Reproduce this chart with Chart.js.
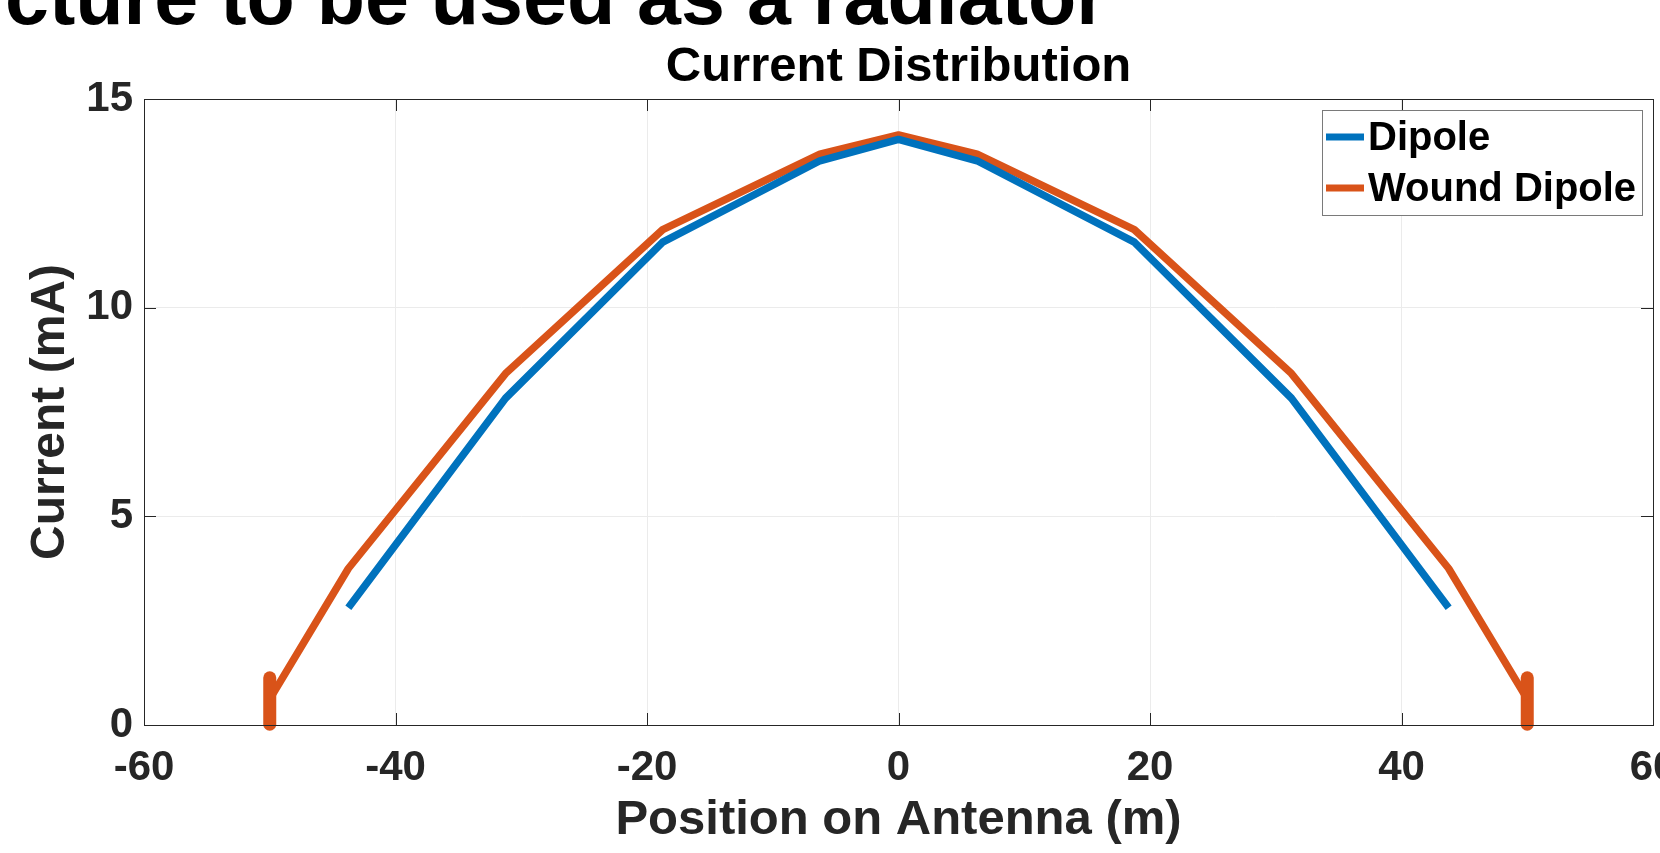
<!DOCTYPE html>
<html>
<head>
<meta charset="utf-8">
<script src="https://cdn.jsdelivr.net/npm/chart.js@4.4.1/dist/chart.umd.min.js"></script>
<style>
  html, body { margin: 0; padding: 0; background: #fff; overflow: hidden; }
  body { width: 1660px; height: 853px; position: relative; }
  #cut { position: absolute; left: 5px; top: -49px; font: bold 79px "Liberation Sans", Arial, sans-serif; color: #000; white-space: nowrap; line-height: 92px; }
  #wrap { position: absolute; left: 0; top: 0; width: 1720px; height: 853px; }
</style>
</head>
<body>
<div id="cut">cture to be used as a radiator</div>
<div id="wrap"><canvas id="c"></canvas></div>
<script>
// posiciones a lo largo de la antena (m)
const dipoleX = [-43.75, -31.25, -18.75, -6.25, 0, 6.25, 18.75, 31.25, 43.75];
const dipoleY = [2.81, 7.83, 11.57, 13.52, 14.03, 13.52, 11.57, 7.83, 2.81];
const woundX = [-50, -43.75, -31.25, -18.75, -6.25, 0, 6.25, 18.75, 31.25, 43.75, 50];
const woundY = [0.62, 3.75, 8.42, 11.87, 13.68, 14.14, 13.68, 11.87, 8.42, 3.75, 0.62];
// los extremos verticales del dipolo enrollado
const endLeftX = [-50, -50];
const endRightX = [50, 50];
const endY = [0.02, 1.13];

const xTicks = [-60, -40, -20, 0, 20, 40, 60];
const yTicks = [0, 5, 10, 15];

const BLUE = '#0072BD';
const ORANGE = '#D95319';
const FONT = '"Liberation Sans", Arial, sans-serif';

const pts = (xs, ys) => xs.map((x, i) => ({ x: x, y: ys[i] }));

// titulo, leyenda, marco y marcas hacia adentro al estilo MATLAB
const matlabDeco = {
    id: 'matlabDeco',
    afterDraw(chart) {
        const { ctx, chartArea: a, scales } = chart;
        ctx.save();
        // marcas
        ctx.strokeStyle = '#262626';
        ctx.lineWidth = 1;
        ctx.beginPath();
        xTicks.forEach(v => {
            const px = Math.round(scales.x.getPixelForValue(v)) + 0.5;
            ctx.moveTo(px, a.bottom); ctx.lineTo(px, a.bottom - 12);
            ctx.moveTo(px, a.top); ctx.lineTo(px, a.top + 12);
        });
        yTicks.forEach(v => {
            const py = Math.round(scales.y.getPixelForValue(v)) + 0.5;
            ctx.moveTo(a.left, py); ctx.lineTo(a.left + 12, py);
            ctx.moveTo(a.right, py); ctx.lineTo(a.right - 12, py);
        });
        ctx.stroke();
        // marco
        ctx.strokeRect(Math.round(a.left) + 0.5, Math.round(a.top) + 0.5, Math.round(a.right - a.left), Math.round(a.bottom - a.top));

        // titulo
        ctx.fillStyle = '#000';
        ctx.font = 'bold 49px ' + FONT;
        ctx.textAlign = 'center';
        ctx.textBaseline = 'alphabetic';
        ctx.fillText('Current Distribution', (a.left + a.right) / 2, 81);

        // leyenda
        const items = chart.data.datasets.filter(d => d.label);
        const lx = 1322, ly = 110, lw = 320, lh = 105;
        ctx.fillStyle = '#fff';
        ctx.fillRect(lx, ly, lw, lh);
        ctx.strokeStyle = '#7a7a7a';
        ctx.strokeRect(lx + 0.5, ly + 0.5, lw, lh);
        ctx.font = 'bold 40px ' + FONT;
        ctx.textAlign = 'left';
        ctx.textBaseline = 'middle';
        items.forEach((d, i) => {
            const y = ly + 27 + i * 51;
            ctx.strokeStyle = d.borderColor;
            ctx.lineWidth = 7;
            ctx.beginPath();
            ctx.moveTo(lx + 4, y); ctx.lineTo(lx + 42, y);
            ctx.stroke();
            ctx.fillStyle = '#000';
            ctx.fillText(d.label, lx + 46, y + 2);
        });
        ctx.restore();
    }
};

new Chart(document.getElementById('c'), {
    type: 'line',
    data: {
        datasets: [
            { label: 'Dipole', data: pts(dipoleX, dipoleY), borderColor: BLUE, borderWidth: 7.5 },
            { label: 'Wound Dipole', data: pts(woundX, woundY), borderColor: ORANGE, borderWidth: 7.5 },
            { label: '', data: pts(endLeftX, endY), borderColor: ORANGE, borderWidth: 13, borderCapStyle: 'round' },
            { label: '', data: pts(endRightX, endY), borderColor: ORANGE, borderWidth: 13, borderCapStyle: 'round' }
        ]
    },
    options: {
        responsive: true,
        maintainAspectRatio: false,
        animation: false,
        clip: false,
        elements: {
            point: { radius: 0, hoverRadius: 0 },
            line: { tension: 0, borderJoinStyle: 'round', borderCapStyle: 'butt' }
        },
        layout: { padding: { left: 0, right: 67, top: 99, bottom: 0 } },
        plugins: {
            legend: { display: false },
            tooltip: { enabled: false },
            title: { display: false }
        },
        scales: {
            x: {
                type: 'linear',
                min: -60,
                max: 60,
                afterBuildTicks: s => { s.ticks = xTicks.map(v => ({ value: v })); },
                afterFit: s => { s.height = 128; },
                grid: { color: '#ebebeb', drawTicks: false },
                border: { display: false },
                ticks: { color: '#262626', font: { family: FONT, size: 42, weight: 'bold' }, padding: 18, maxRotation: 0 },
                title: {
                    display: true,
                    text: 'Position on Antenna (m)',
                    color: '#262626',
                    font: { family: FONT, size: 49, weight: 'bold' },
                    padding: { top: 0, bottom: 3 }
                }
            },
            y: {
                min: 0,
                max: 15,
                afterBuildTicks: s => { s.ticks = yTicks.map(v => ({ value: v })); },
                afterFit: s => { s.width = 144; },
                grid: { color: '#ebebeb', drawTicks: false },
                border: { display: false },
                ticks: { color: '#262626', font: { family: FONT, size: 42, weight: 'bold' }, padding: 11 },
                title: {
                    display: true,
                    text: 'Current (mA)',
                    color: '#262626',
                    font: { family: FONT, size: 48, weight: 'bold' },
                    padding: { top: 22, bottom: 0 }
                }
            }
        }
    },
    plugins: [matlabDeco]
});
</script>
</body>
</html>
